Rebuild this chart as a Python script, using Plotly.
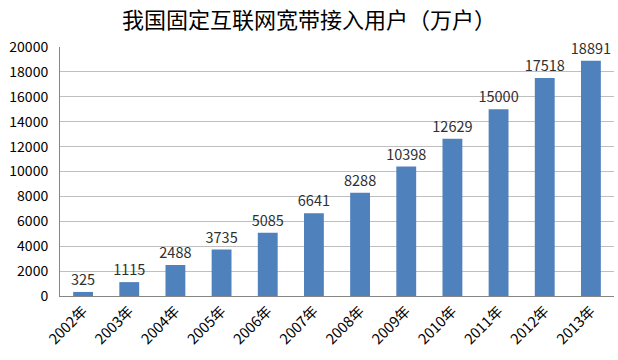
import plotly.graph_objects as go

years = ["2002年", "2003年", "2004年", "2005年", "2006年", "2007年",
         "2008年", "2009年", "2010年", "2011年", "2012年", "2013年"]
users = [325, 1115, 2488, 3735, 5085, 6641, 8288, 10398, 12629, 15000, 17518, 18891]
y_ticks = [0, 2000, 4000, 6000, 8000, 10000, 12000, 14000, 16000, 18000, 20000]
title_text = "我国固定互联网宽带接入用户（万户）"

font_family = "Noto Sans CJK SC, Noto Sans, sans-serif"

fig = go.Figure(go.Bar(
    x=years, y=users,
    marker=dict(color="#4F81BD", line=dict(width=0)),
    text=[str(v) for v in users],
    textposition="outside",
    textfont=dict(size=14.5, color="#303030", family=font_family),
    cliponaxis=False,
    constraintext="none",
))

fig.update_layout(
    width=618, height=360,
    margin=dict(l=60, r=4, t=47, b=64),
    paper_bgcolor="white", plot_bgcolor="white",
    showlegend=False,
    uniformtext=dict(mode="show", minsize=14),
    title=dict(text=title_text, x=0.5, xanchor="center", y=0.945, yanchor="middle",
               font=dict(size=22, color="#000000", family=font_family)),
    xaxis=dict(
        tickangle=-45, tickfont=dict(size=14.5, color="#000000", family=font_family),
        showline=True, linecolor="#868686", linewidth=1,
        showgrid=False, ticks="", automargin=False,
    ),
    yaxis=dict(
        range=[0, 20000], tickvals=y_ticks, ticktext=[str(v) for v in y_ticks],
        tickfont=dict(size=14, color="#000000", family=font_family),
        showline=True, linecolor="#868686", linewidth=1,
        showgrid=True, gridcolor="#BFBFBF", gridwidth=1,
        zeroline=False, ticks="", automargin=False, ticklabelstandoff=8,
    ),
    bargap=0.57,
)

fig.write_html("out.html", config={"displayModeBar": False},
               post_script="document.body.style.margin='0';")
